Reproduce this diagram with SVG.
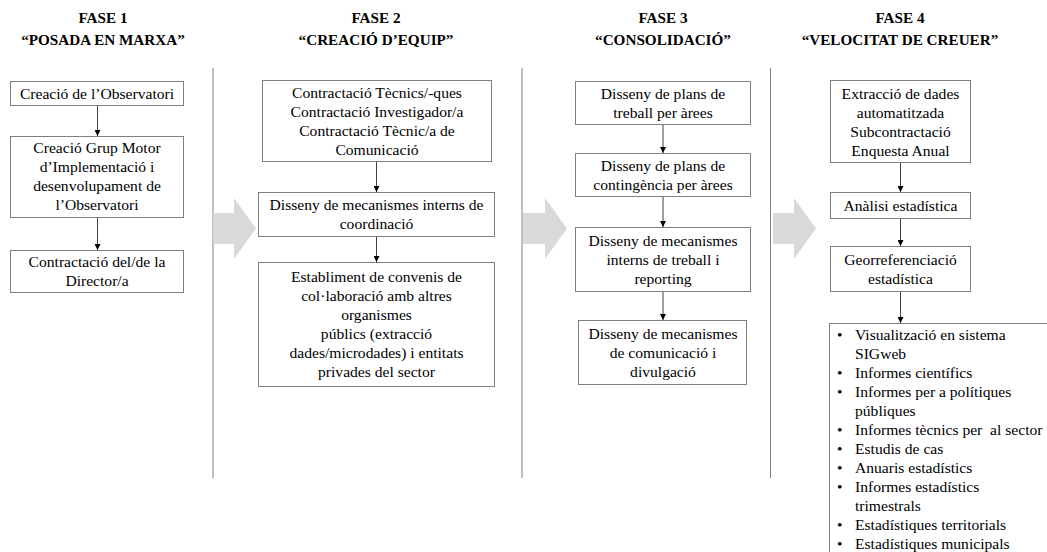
<svg xmlns="http://www.w3.org/2000/svg" width="1047" height="552" viewBox="0 0 1047 552">
<style>
.t{font-family:"Liberation Serif","Times New Roman",serif;font-size:15.6px;fill:#000;text-anchor:middle}
.h{font-family:"Liberation Serif","Times New Roman",serif;font-size:15.2px;font-weight:bold;fill:#000;text-anchor:middle}
.l{font-family:"Liberation Serif","Times New Roman",serif;font-size:15.6px;fill:#000}
.box{fill:#fff;stroke:#7f7f7f;stroke-width:1}
.div{stroke:#7f7f7f;stroke-width:1}
.c{stroke:#404040;stroke-width:1;fill:none;marker-end:url(#ah)}
.g{fill:#d9d9d9}
</style>
<defs>
<marker id="ah" markerUnits="userSpaceOnUse" markerWidth="6" markerHeight="6" refX="6" refY="3" orient="auto">
<path d="M0,0 L6,3 L0,6 z" fill="#000"/>
</marker>
</defs>
<rect width="1047" height="552" fill="#fff"/>

<g id="titles">
<text class="h" x="103" y="23">FASE 1</text>
<text class="h" x="103" y="45">“POSADA EN MARXA”</text>
<text class="h" x="376" y="23">FASE 2</text>
<text class="h" x="376" y="45">“CREACIÓ D’EQUIP”</text>
<text class="h" x="663" y="23">FASE 3</text>
<text class="h" x="663" y="45">“CONSOLIDACIÓ”</text>
<text class="h" x="900" y="23">FASE 4</text>
<text class="h" x="900" y="45">“VELOCITAT DE CREUER”</text>
</g>

<g id="dividers">
<line class="div" x1="213" y1="68" x2="213" y2="478"/>
<line class="div" x1="522" y1="68" x2="522" y2="478"/>
<line class="div" x1="770.5" y1="68" x2="770.5" y2="478"/>
</g>

<g id="phase-arrows">
<polygon class="g" points="213,213 234,213 234,198 256,228.5 234,259 234,244 213,244"/>
<polygon class="g" points="523,213 545,213 545,198 567,228.5 545,259 545,244 523,244"/>
<polygon class="g" points="773,213 794,213 794,198 816,228.5 794,259 794,244 773,244"/>
</g>

<g id="connectors">
<line class="c" x1="97.5" y1="106" x2="97.5" y2="136"/>
<line class="c" x1="97.5" y1="218" x2="97.5" y2="250"/>
<line class="c" x1="376.5" y1="162" x2="376.5" y2="192"/>
<line class="c" x1="376.5" y1="237" x2="376.5" y2="262"/>
<line class="c" x1="663" y1="125" x2="663" y2="153"/>
<line class="c" x1="663" y1="197" x2="663" y2="227"/>
<line class="c" x1="663" y1="292" x2="663" y2="320"/>
<line class="c" x1="900.5" y1="163" x2="900.5" y2="192"/>
<line class="c" x1="900.5" y1="219" x2="900.5" y2="246"/>
<line class="c" x1="900.5" y1="292" x2="900.5" y2="323"/>
</g>

<g id="f1-n1">
<rect class="box" x="10.5" y="81.5" width="173" height="24"/>
<text class="t" x="97" y="99">Creació de l’Observatori</text>
</g>
<g id="f1-n2">
<rect class="box" x="10.5" y="136.5" width="173" height="81"/>
<text class="t" x="97"><tspan x="97" y="153">Creació Grup Motor</tspan><tspan x="97" y="172">d’Implementació i</tspan><tspan x="97" y="191">desenvolupament de</tspan><tspan x="97" y="210">l’Observatori</tspan></text>
</g>
<g id="f1-n3">
<rect class="box" x="10.5" y="250.5" width="173" height="42"/>
<text class="t" x="97"><tspan x="97" y="267">Contractació del/de la</tspan><tspan x="97" y="286">Director/a</tspan></text>
</g>

<g id="f2-n1">
<rect class="box" x="262.5" y="80.5" width="229" height="81"/>
<text class="t"><tspan x="377" y="98">Contractació Tècnics/-ques</tspan><tspan x="377" y="117">Contractació Investigador/a</tspan><tspan x="377" y="136">Contractació Tècnic/a de</tspan><tspan x="377" y="155">Comunicació</tspan></text>
</g>
<g id="f2-n2">
<rect class="box" x="258.5" y="192.5" width="236" height="44"/>
<text class="t"><tspan x="376.5" y="210">Disseny de mecanismes interns de</tspan><tspan x="376.5" y="229">coordinació</tspan></text>
</g>
<g id="f2-n3">
<rect class="box" x="258.5" y="262.5" width="236" height="124"/>
<text class="t"><tspan x="376.5" y="282">Establiment de convenis de</tspan><tspan x="376.5" y="301">col·laboració amb altres</tspan><tspan x="376.5" y="320">organismes</tspan><tspan x="376.5" y="339">públics (extracció</tspan><tspan x="376.5" y="358">dades/microdades) i entitats</tspan><tspan x="376.5" y="377">privades del sector</tspan></text>
</g>

<g id="f3-n1">
<rect class="box" x="575.5" y="81.5" width="175" height="43"/>
<text class="t"><tspan x="663" y="99">Disseny de plans de</tspan><tspan x="663" y="118">treball per àrees</tspan></text>
</g>
<g id="f3-n2">
<rect class="box" x="575.5" y="153.5" width="175" height="43"/>
<text class="t"><tspan x="663" y="171">Disseny de plans de</tspan><tspan x="663" y="190">contingència per àrees</tspan></text>
</g>
<g id="f3-n3">
<rect class="box" x="575.5" y="227.5" width="175" height="64"/>
<text class="t"><tspan x="663" y="246">Disseny de mecanismes</tspan><tspan x="663" y="265">interns de treball i</tspan><tspan x="663" y="284">reporting</tspan></text>
</g>
<g id="f3-n4">
<rect class="box" x="578.5" y="320.5" width="168" height="64"/>
<text class="t"><tspan x="663" y="339">Disseny de mecanismes</tspan><tspan x="663" y="358">de comunicació i</tspan><tspan x="663" y="377">divulgació</tspan></text>
</g>

<g id="f4-n1">
<rect class="box" x="830.5" y="80.5" width="140" height="82"/>
<text class="t"><tspan x="900.5" y="98.5">Extracció de dades</tspan><tspan x="900.5" y="117.5">automatitzada</tspan><tspan x="900.5" y="136.5">Subcontractació</tspan><tspan x="900.5" y="155.5">Enquesta Anual</tspan></text>
</g>
<g id="f4-n2">
<rect class="box" x="830.5" y="192.5" width="140" height="26"/>
<text class="t" x="900.5" y="211">Anàlisi estadística</text>
</g>
<g id="f4-n3">
<rect class="box" x="830.5" y="246.5" width="140" height="45"/>
<text class="t"><tspan x="900.5" y="265">Georreferenciació</tspan><tspan x="900.5" y="284">estadística</tspan></text>
</g>
<g id="f4-n4">
<rect class="box" x="829.5" y="323.5" width="240" height="260"/>
<text class="l"><tspan x="837" y="340">•</tspan><tspan x="855" y="340">Visualització en sistema</tspan><tspan x="855" y="359">SIGweb</tspan><tspan x="837" y="378">•</tspan><tspan x="855" y="378">Informes científics</tspan><tspan x="837" y="397">•</tspan><tspan x="855" y="397">Informes per a polítiques</tspan><tspan x="855" y="416">públiques</tspan><tspan x="837" y="435">•</tspan><tspan x="855" y="435">Informes tècnics per&#160; al sector</tspan><tspan x="837" y="454">•</tspan><tspan x="855" y="454">Estudis de cas</tspan><tspan x="837" y="473">•</tspan><tspan x="855" y="473">Anuaris estadístics</tspan><tspan x="837" y="492">•</tspan><tspan x="855" y="492">Informes estadístics</tspan><tspan x="855" y="511">trimestrals</tspan><tspan x="837" y="530">•</tspan><tspan x="855" y="530">Estadístiques territorials</tspan><tspan x="837" y="549">•</tspan><tspan x="855" y="549">Estadístiques municipals</tspan></text>
</g>
</svg>
